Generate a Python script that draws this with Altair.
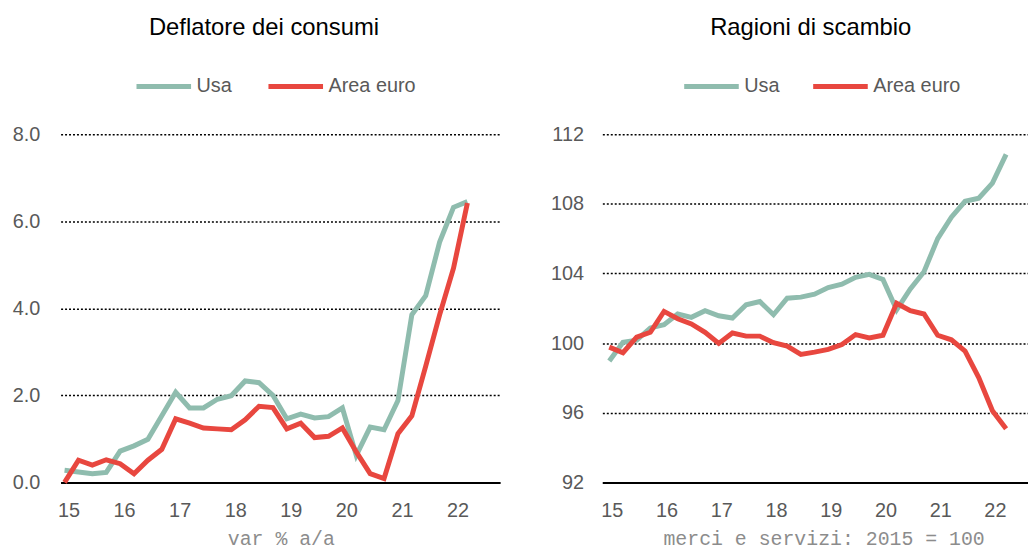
import altair as alt
import pandas as pd

# Quarterly data 2015Q1 .. 2022Q2 (30 quarters)
quarters = list(range(30))
year_labels = ["15", "16", "17", "18", "19", "20", "21", "22"]
series_names = ["Usa", "Area euro"]

defl_usa = [0.28, 0.24, 0.20, 0.23, 0.72, 0.84, 0.99, 1.53, 2.07, 1.71,
            1.71, 1.91, 1.99, 2.33, 2.29, 2.00, 1.46, 1.57, 1.48, 1.51,
            1.71, 0.62, 1.27, 1.21, 1.88, 3.85, 4.29, 5.52, 6.32, 6.45]
defl_ea = [0.00, 0.51, 0.40, 0.52, 0.43, 0.20, 0.51, 0.76, 1.46, 1.36,
           1.25, 1.23, 1.21, 1.44, 1.75, 1.72, 1.23, 1.36, 1.03, 1.06,
           1.25, 0.70, 0.20, 0.09, 1.12, 1.53, 2.67, 3.85, 4.92, 6.42]

tot_usa = [98.97, 100.05, 100.17, 100.87, 101.06, 101.67, 101.48, 101.86, 101.57, 101.44,
           102.20, 102.39, 101.63, 102.58, 102.64, 102.81, 103.19, 103.38, 103.78, 103.95,
           103.66, 101.91, 103.11, 104.10, 106.00, 107.23, 108.14, 108.32, 109.19, 110.84]
tot_ea = [99.77, 99.45, 100.34, 100.62, 101.82, 101.40, 101.10, 100.62, 99.98, 100.58,
          100.40, 100.40, 100.02, 99.83, 99.35, 99.48, 99.64, 99.92, 100.49, 100.30,
          100.45, 102.29, 101.86, 101.67, 100.45, 100.19, 99.54, 98.02, 96.12, 95.08]

GREEN = "#8FBCAE"
RED = "#E8473F"
SANS = "Liberation Sans, Arial, sans-serif"
MONO = "Liberation Mono, DejaVu Sans Mono, monospace"
GREY = "#595959"


def make_df(usa, ea):
    rows = []
    for name, vals in zip(series_names, [usa, ea]):
        for t, v in zip(quarters, vals):
            rows.append({"t": t, "v": v, "s": name})
    return pd.DataFrame(rows)


def panel(df, title, title_dx, xdomain, ydomain, yvals, yfmt, label_offset,
          axis_title, axis_title_x, legend_x, col_pad, width, ylabel_pad):
    label_expr = "[" + ",".join("'%s'" % y for y in year_labels) + "][datum.value/4]"
    return alt.Chart(df).mark_line(strokeWidth=5).encode(
        x=alt.X("t:Q",
                scale=alt.Scale(domain=xdomain, nice=False, zero=False),
                axis=alt.Axis(values=[0, 4, 8, 12, 16, 20, 24, 28],
                              labelExpr=label_expr,
                              title=axis_title, grid=False, domain=True,
                              domainColor="black", domainWidth=2,
                              ticks=False, tickSize=0, labelPadding=18.5,
                              labelOffset=label_offset, labelFont=SANS,
                              labelFontSize=20, labelColor=GREY,
                              titleFont=MONO, titleFontSize=20,
                              titleFontWeight="normal", titleColor="#8c8c8c",
                              titleX=axis_title_x, titleY=63,
                              titleBaseline="alphabetic", titleAlign="center")),
        y=alt.Y("v:Q",
                scale=alt.Scale(domain=ydomain, nice=False, zero=False),
                axis=alt.Axis(values=yvals, format=yfmt, title=None,
                              grid=True, gridDash=[2, 2], gridColor="black",
                              gridWidth=1.5, domain=False, ticks=False,
                              tickSize=0, labelPadding=ylabel_pad,
                              labelFont=SANS, labelFontSize=20,
                              labelColor=GREY, minExtent=53, maxExtent=53)),
        color=alt.Color("s:N",
                        scale=alt.Scale(domain=series_names, range=[GREEN, RED]),
                        sort=series_names,
                        legend=alt.Legend(orient="none", legendX=legend_x,
                                          legendY=-78, direction="horizontal",
                                          title=None, symbolType="stroke",
                                          symbolSize=3025, symbolStrokeWidth=5,
                                          labelFont=SANS, labelFontSize=20,
                                          labelColor=GREY, labelOffset=3,
                                          columnPadding=col_pad, padding=0)),
    ).properties(
        width=width, height=351,
        title=alt.TitleParams(title, fontSize=24, font=SANS, color="black",
                              fontWeight="normal", anchor="middle",
                              dx=title_dx, offset=16.8),
    )


left = panel(make_df(defl_usa, defl_ea), "Deflatore dei consumi", -16.5,
             [-0.2857, 31.357], [0, 8], [0, 2, 4, 6, 8], ".1f", 4,
             "var % a/a", 222, 74, 26, 443, 21)
right = panel(make_df(tot_usa, tot_ea), "Ragioni di scambio", -4.5,
              [-0.5076, 30.60], [92, 112], [92, 96, 100, 104, 108, 112], "d", 2.5,
              "merci e servizi: 2015 = 100", 223, 80, 23, 429, 19)

chart = alt.hconcat(left, right, spacing=50).resolve_scale(
    color="independent").resolve_legend(color="independent").properties(
    padding={"top": 6, "left": 0, "right": 0, "bottom": 0}
).configure_view(stroke=None)

chart.save("out.html", embed_options={"renderer": "svg", "actions": False})
